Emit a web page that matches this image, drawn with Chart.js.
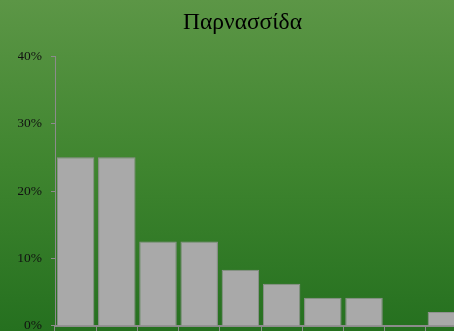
<!DOCTYPE html>
<html>
<head>
<meta charset="utf-8">
<script src="https://cdn.jsdelivr.net/npm/chart.js@4"></script>
<style>
  html, body { margin: 0; padding: 0; overflow: hidden; }
  body {
    width: 454px; height: 331px;
    background: linear-gradient(to bottom, #5c9646 0%, #3f852f 50%, #25701f 100%);
  }
  #wrap { position: relative; width: 485px; height: 343px; }
</style>
</head>
<body>
<div id="wrap"><canvas id="chart"></canvas></div>
<script>
const titre = "Παρνασσίδα";
const classes = ["1", "2", "3", "4", "5", "6", "7", "8", "9", "10"];
const pourcentages = [25, 25, 12.5, 12.5, 8.33, 6.25, 4.17, 4.17, 0, 2.08];
const ticksY = [0, 10, 20, 30, 40];

const gris = "#8c8c8c";
const police = "'Liberation Serif', 'Times New Roman', serif";

const ctx = document.getElementById("chart").getContext("2d");

new Chart(ctx, {
    type: "bar",
    data: {
        labels: classes,
        datasets: [{
            data: pourcentages,
            backgroundColor: "#a9a9a9",
            borderColor: "#909090",
            borderWidth: 1,
            barPercentage: 0.91,
            categoryPercentage: 1
        }]
    },
    options: {
        responsive: true,
        maintainAspectRatio: false,
        animation: false,
        layout: { padding: { left: 18, right: 18, top: 0, bottom: 2 } },
        plugins: {
            legend: { display: false },
            tooltip: { enabled: false },
            title: {
                display: true,
                text: titre,
                color: "#000",
                font: { family: police, size: 23.5, weight: "normal" },
                padding: { top: 9, bottom: 19 }
            }
        },
        scales: {
            x: {
                grid: { drawOnChartArea: false, color: gris, tickLength: 8, lineWidth: 1 },
                border: { color: gris, width: 2 },
                ticks: { display: false }
            },
            y: {
                min: 0,
                max: 40,
                // axe à x = 55 : 18 de marge + 37 de largeur
                afterFit: (scale) => { scale.width = 37; },
                afterBuildTicks: (scale) => {
                    scale.ticks = ticksY.map(v => ({ value: v }));
                },
                grid: { drawOnChartArea: false, color: gris, tickLength: 4 },
                border: { color: gris, width: 1 },
                ticks: {
                    color: "#111",
                    padding: 9,
                    font: { family: police, size: 13.5 },
                    callback: (v) => v + "%"
                }
            }
        }
    }
});
</script>
</body>
</html>
